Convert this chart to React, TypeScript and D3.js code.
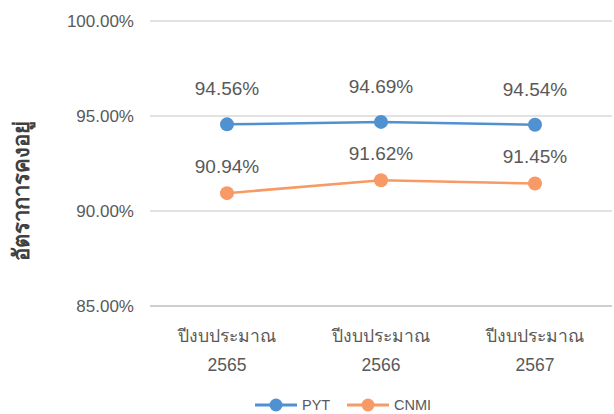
import React, { useEffect, useRef } from 'react';
import * as d3 from 'd3';

const categories = ['ปีงบประมาณ|2565', 'ปีงบประมาณ|2566', 'ปีงบประมาณ|2567'];
const pytValues = [94.56, 94.69, 94.54];
const cnmiValues = [90.94, 91.62, 91.45];
const yTicks = [85, 90, 95, 100];

const series = [
  { name: 'PYT', values: pytValues, color: '#4f91d1', labelDy: -29 },
  { name: 'CNMI', values: cnmiValues, color: '#f79a66', labelDy: -20 },
];

const App = () => {
  const svgRef = useRef<SVGSVGElement>(null);

  useEffect(() => {
    const width = 614;
    const height = 414;
    const svg = d3.select(svgRef.current).attr('width', width).attr('height', height);
    svg.selectAll('*').remove();

    const font = '"Liberation Sans", Arial, sans-serif';
    const left = 150;
    const right = 612;

    const x = d3.scaleBand().domain(categories).range([left, right]);
    const y = d3.scaleLinear().domain([85, 100]).range([306, 21]);

    // gridlines
    svg
      .append('g')
      .selectAll('line')
      .data(yTicks)
      .enter()
      .append('line')
      .attr('x1', left)
      .attr('x2', right)
      .attr('y1', (d) => y(d))
      .attr('y2', (d) => y(d))
      .attr('stroke', d => (d === 85 ? '#bfbfbf' : '#d9d9d9'))
      .attr('stroke-width', 1.5);

    // y tick labels
    svg
      .append('g')
      .selectAll('text')
      .data(yTicks)
      .enter()
      .append('text')
      .attr('x', 134)
      .attr('y', (d) => y(d) + 6)
      .attr('text-anchor', 'end')
      .attr('font-family', font)
      .attr('font-size', 17)
      .attr('fill', '#595959')
      .text((d) => d3.format('.2f')(d) + '%');

    // axis title
    svg
      .append('text')
      .attr('transform', 'translate(29,191) rotate(-90)')
      .attr('text-anchor', 'middle')
      .attr('font-family', font)
      .attr('font-size', 22)
      .attr('font-weight', 'bold')
      .attr('fill', '#404040')
      .text('อัตราการคงอยู่');

    // category labels
    const cat = svg
      .append('g')
      .selectAll('text')
      .data(categories)
      .enter()
      .append('text')
      .attr('text-anchor', 'middle')
      .attr('font-family', font)
      .attr('font-size', 17.5)
      .attr('fill', '#595959');
    cat
      .append('tspan')
      .attr('x', (d) => x(d)! + x.bandwidth() / 2)
      .attr('y', 342)
      .text((d) => d.split('|')[0]);
    cat
      .append('tspan')
      .attr('x', (d) => x(d)! + x.bandwidth() / 2)
      .attr('y', 371)
      .text((d) => d.split('|')[1]);

    const cx = (i: number) => x(categories[i])! + x.bandwidth() / 2;

    series.forEach((s) => {
      const line = d3
        .line<number>()
        .x((_, i) => cx(i))
        .y((d) => y(d));
      svg
        .append('path')
        .datum(s.values)
        .attr('d', line)
        .attr('fill', 'none')
        .attr('stroke', s.color)
        .attr('stroke-width', 2.5);
      svg
        .append('g')
        .selectAll('circle')
        .data(s.values)
        .enter()
        .append('circle')
        .attr('cx', (_, i) => cx(i))
        .attr('cy', (d) => y(d))
        .attr('r', 7)
        .attr('fill', s.color);
      svg
        .append('g')
        .selectAll('text')
        .data(s.values)
        .enter()
        .append('text')
        .attr('x', (_, i) => cx(i))
        .attr('y', (d) => y(d) + s.labelDy)
        .attr('text-anchor', 'middle')
        .attr('font-family', font)
        .attr('font-size', 19)
        .attr('fill', '#595959')
        .text((d) => d3.format('.2f')(d) + '%');
    });

    // legend
    const legendX = [255, 347];
    series.forEach((s, i) => {
      const g = svg.append('g').attr('transform', `translate(${legendX[i]},405)`);
      g.append('line').attr('x1', 0).attr('x2', 42).attr('stroke', s.color).attr('stroke-width', 3);
      g.append('circle').attr('cx', 21).attr('r', 6.5).attr('fill', s.color);
      g.append('text')
        .attr('x', 47)
        .attr('y', 5)
        .attr('font-family', font)
        .attr('font-size', 14.5)
        .attr('fill', '#595959')
        .text(s.name);
    });
  }, []);

  return <svg ref={svgRef} style={{ position: 'absolute', left: 0, top: 0 }} />;
};

export default App;
